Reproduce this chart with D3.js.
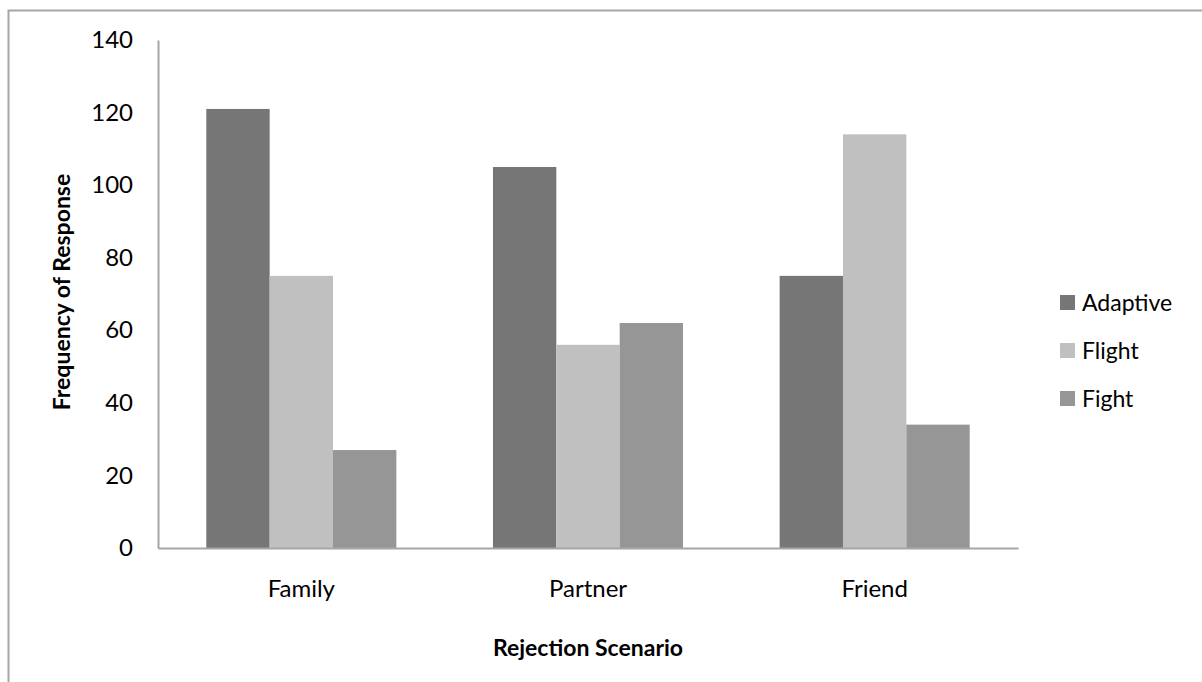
<!DOCTYPE html>
<html>
<head>
<meta charset="utf-8">
<script src="https://cdn.jsdelivr.net/npm/d3@7"></script>
<style>
  html, body { margin: 0; padding: 0; background: #fff; }
  svg { display: block; font-family: Lato, "Open Sans", sans-serif; }
</style>
</head>
<body>
<svg id="chart" width="1202" height="682"></svg>
<script>
// Response frequencies per rejection scenario
const categories = ["Family", "Partner", "Friend"];
const seriesNames = ["Adaptive", "Flight", "Fight"];
const adaptive = [121, 105, 75];
const flight = [75, 56, 114];
const fight = [27, 62, 34];
const yTicks = [0, 20, 40, 60, 80, 100, 120, 140];

const seriesValues = [adaptive, flight, fight];
const colors = ["#767676", "#c0c0c0", "#969696"];

const svg = d3.select("#chart");

// outer frame of the chart area
svg.append("rect")
  .attr("x", 8.5).attr("y", 10.5)
  .attr("width", 1210).attr("height", 700)
  .attr("fill", "none")
  .attr("stroke", "#a6a6a6")
  .attr("stroke-width", 2);

const plot = { left: 158, right: 1018, top: 40, bottom: 548 };

const x0 = d3.scaleBand()
  .domain(categories)
  .range([plot.left, plot.right])
  .paddingInner(0.337)
  .paddingOuter(0.1685);

const x1 = d3.scaleBand()
  .domain(seriesNames)
  .range([0, x0.bandwidth()]);

const y = d3.scaleLinear()
  .domain([0, 140])
  .range([plot.bottom, plot.top]);

const color = d3.scaleOrdinal().domain(seriesNames).range(colors);

// bars
const groups = svg.append("g")
  .selectAll("g")
  .data(categories)
  .join("g")
  .attr("transform", d => `translate(${x0(d)},0)`);

groups.selectAll("rect")
  .data((cat, i) => seriesNames.map((s, j) => ({ series: s, value: seriesValues[j][i] })))
  .join("rect")
  .attr("x", d => x1(d.series))
  .attr("y", d => y(d.value))
  .attr("width", x1.bandwidth())
  .attr("height", d => y(0) - y(d.value))
  .attr("fill", d => color(d.series));

// y axis
const yAxis = svg.append("g")
  .attr("transform", `translate(${plot.left},0)`)
  .call(d3.axisLeft(y).tickValues(yTicks).tickSize(0).tickPadding(25));
yAxis.select(".domain").attr("stroke", "#a6a6a6").attr("stroke-width", 2);
yAxis.selectAll("text")
  .attr("font-family", "Lato, 'Open Sans', sans-serif")
  .attr("font-size", 24)
  .attr("fill", "#000");

// x axis
const xAxis = svg.append("g")
  .attr("transform", `translate(0,${plot.bottom})`)
  .call(d3.axisBottom(x0).tickSize(0).tickPadding(32));
xAxis.select(".domain").attr("stroke", "#a6a6a6").attr("stroke-width", 2);
xAxis.selectAll("text")
  .attr("font-family", "Lato, 'Open Sans', sans-serif")
  .attr("font-size", 24)
  .attr("fill", "#000");

// axis titles
svg.append("text")
  .attr("transform", `translate(70,${(plot.top + plot.bottom) / 2 - 2}) rotate(-90)`)
  .attr("text-anchor", "middle")
  .attr("font-size", 23)
  .attr("font-weight", "bold")
  .attr("fill", "#000")
  .text("Frequency of Response");

svg.append("text")
  .attr("x", (plot.left + plot.right) / 2)
  .attr("y", 656)
  .attr("text-anchor", "middle")
  .attr("font-size", 23)
  .attr("font-weight", "bold")
  .attr("fill", "#000")
  .text("Rejection Scenario");

// legend
const legend = svg.append("g")
  .selectAll("g")
  .data(seriesNames)
  .join("g")
  .attr("transform", (d, i) => `translate(1060,${303 + i * 48})`);

legend.append("rect")
  .attr("x", 0).attr("y", -8)
  .attr("width", 15).attr("height", 15)
  .attr("fill", d => color(d));

legend.append("text")
  .attr("x", 22).attr("y", 0)
  .attr("dy", "0.35em")
  .attr("font-size", 23)
  .attr("fill", "#000")
  .text(d => d);
</script>
</body>
</html>
